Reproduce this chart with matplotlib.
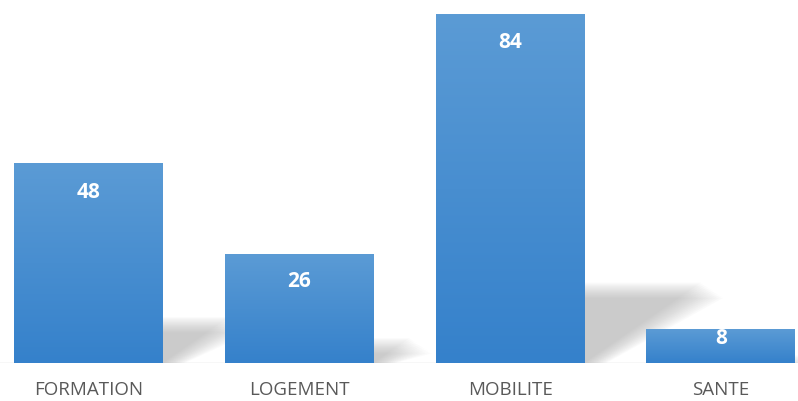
import matplotlib
matplotlib.use("Agg")
import matplotlib.pyplot as plt
import numpy as np
from matplotlib.patches import Polygon
from matplotlib.colors import LinearSegmentedColormap

categories = ["FORMATION", "LOGEMENT", "MOBILITE", "SANTE"]
values = [48, 26, 84, 8]

fig = plt.figure(figsize=(7.98, 4.01), dpi=100)
ax = fig.add_axes([0, 38 / 401, 1, 363 / 401])

width = 0.706
cmap = LinearSegmentedColormap.from_list("bar", ["#3581cb", "#5b9bd5"])
grad = np.linspace(0, 1, 256).reshape(-1, 1)

x = np.arange(len(categories))

# ombres floues (plusieurs polygones superposés)
for xi, v in zip(x, values):
    right = xi + width / 2
    left = xi - width / 2
    h = v * 0.23
    dx = v * 0.0066
    for k in range(14):
        s = k * 0.008
        poly = Polygon([(left, 0), (right + s, 0), (right + dx + s, h - k * 0.28),
                        (left + dx, h - k * 0.28)],
                       closed=True, facecolor="#9a9a9a", edgecolor="none",
                       alpha=0.045, zorder=1)
        ax.add_patch(poly)

bars = ax.bar(x, values, width=width, color="none", zorder=2)
for b, v in zip(bars, values):
    x0, x1 = b.get_x(), b.get_x() + b.get_width()
    ax.imshow(grad, extent=[x0, x1, 0, v], origin="lower", cmap=cmap,
              aspect="auto", zorder=2)
    ty = max(v - 6.9, 0.75 * v)
    ax.text(b.get_x() + b.get_width() / 2, ty, str(v), ha="center",
            va="center", color="white", fontsize=15, fontweight="bold",
            family="Open Sans", zorder=3)

ax.axhline(0, color="#d9d9d9", lw=1, zorder=0)
ax.set_xticks(x)
ax.set_xticklabels(categories, fontsize=13.5, color="#595959", family="Open Sans")
ax.tick_params(axis="x", length=0, pad=13)
ax.set_yticks([])
for sp in ax.spines.values():
    sp.set_visible(False)
ax.set_xlim(-0.42, 3.366)
ax.set_ylim(0, 87.37)

fig.savefig("out.png", dpi=100)
